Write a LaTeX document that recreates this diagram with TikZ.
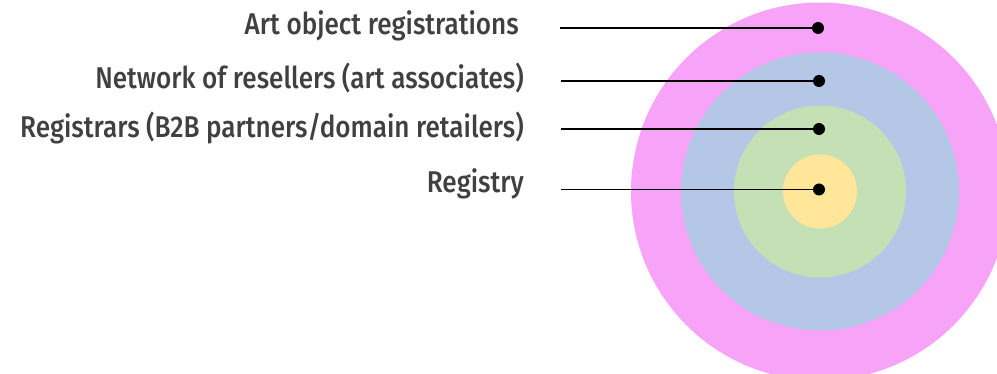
\documentclass[tikz,border=0pt]{standalone}
\usepackage{fontspec}
\setmainfont[FakeStretch=0.87]{Fira Sans Medium}
\begin{document}
\begin{tikzpicture}[x=1pt,y=-1pt,
  lbl/.style={anchor=base east,inner sep=0pt,text=black!75,font=\fontsize{30}{34}\selectfont},
  ring/.style={draw=none},
  pin/.style={circle,fill=black,inner sep=0pt,minimum size=12pt},
  lead/.style={draw=black,line width=1.1pt}]
\useasboundingbox (0,0) rectangle (997,374);
\begin{scope}
\clip (0,0) rectangle (997,374);
\fill[ring,fill={rgb,255:red,247;green,163;blue,247}] (820,191.5) circle (189);
\fill[ring,fill={rgb,255:red,180;green,199;blue,231}] (820,191.5) circle (139);
\fill[ring,fill={rgb,255:red,197;green,224;blue,180}] (820,191.5) circle (86);
\fill[ring,fill={rgb,255:red,255;green,230;blue,153}] (820,191.5) circle (37);
\end{scope}
\node[lbl] (t1) at (519,35) {Art object registrations};
\node[lbl] (t2) at (524,88.5) {Network of resellers (art associates)};
\node[lbl] (t3) at (524,138) {Registrars (B2B partners/domain retailers)};
\node[lbl] (t4) at (524,193) {Registry};
\node[pin] (d1) at (818,28) {};
\node[pin] (d2) at (819,81) {};
\node[pin] (d3) at (819,129) {};
\node[pin] (d4) at (819,189.5) {};
\coordinate (s1) at (560,28);
\coordinate (s2) at (561,81);
\coordinate (s3) at (561,129);
\coordinate (s4) at (561,189.5);
\draw[lead] (s1) -- (d1.center);
\draw[lead] (s2) -- (d2.center);
\draw[lead] (s3) -- (d3.center);
\draw[lead] (s4) -- (d4.center);
\end{tikzpicture}
\end{document}
